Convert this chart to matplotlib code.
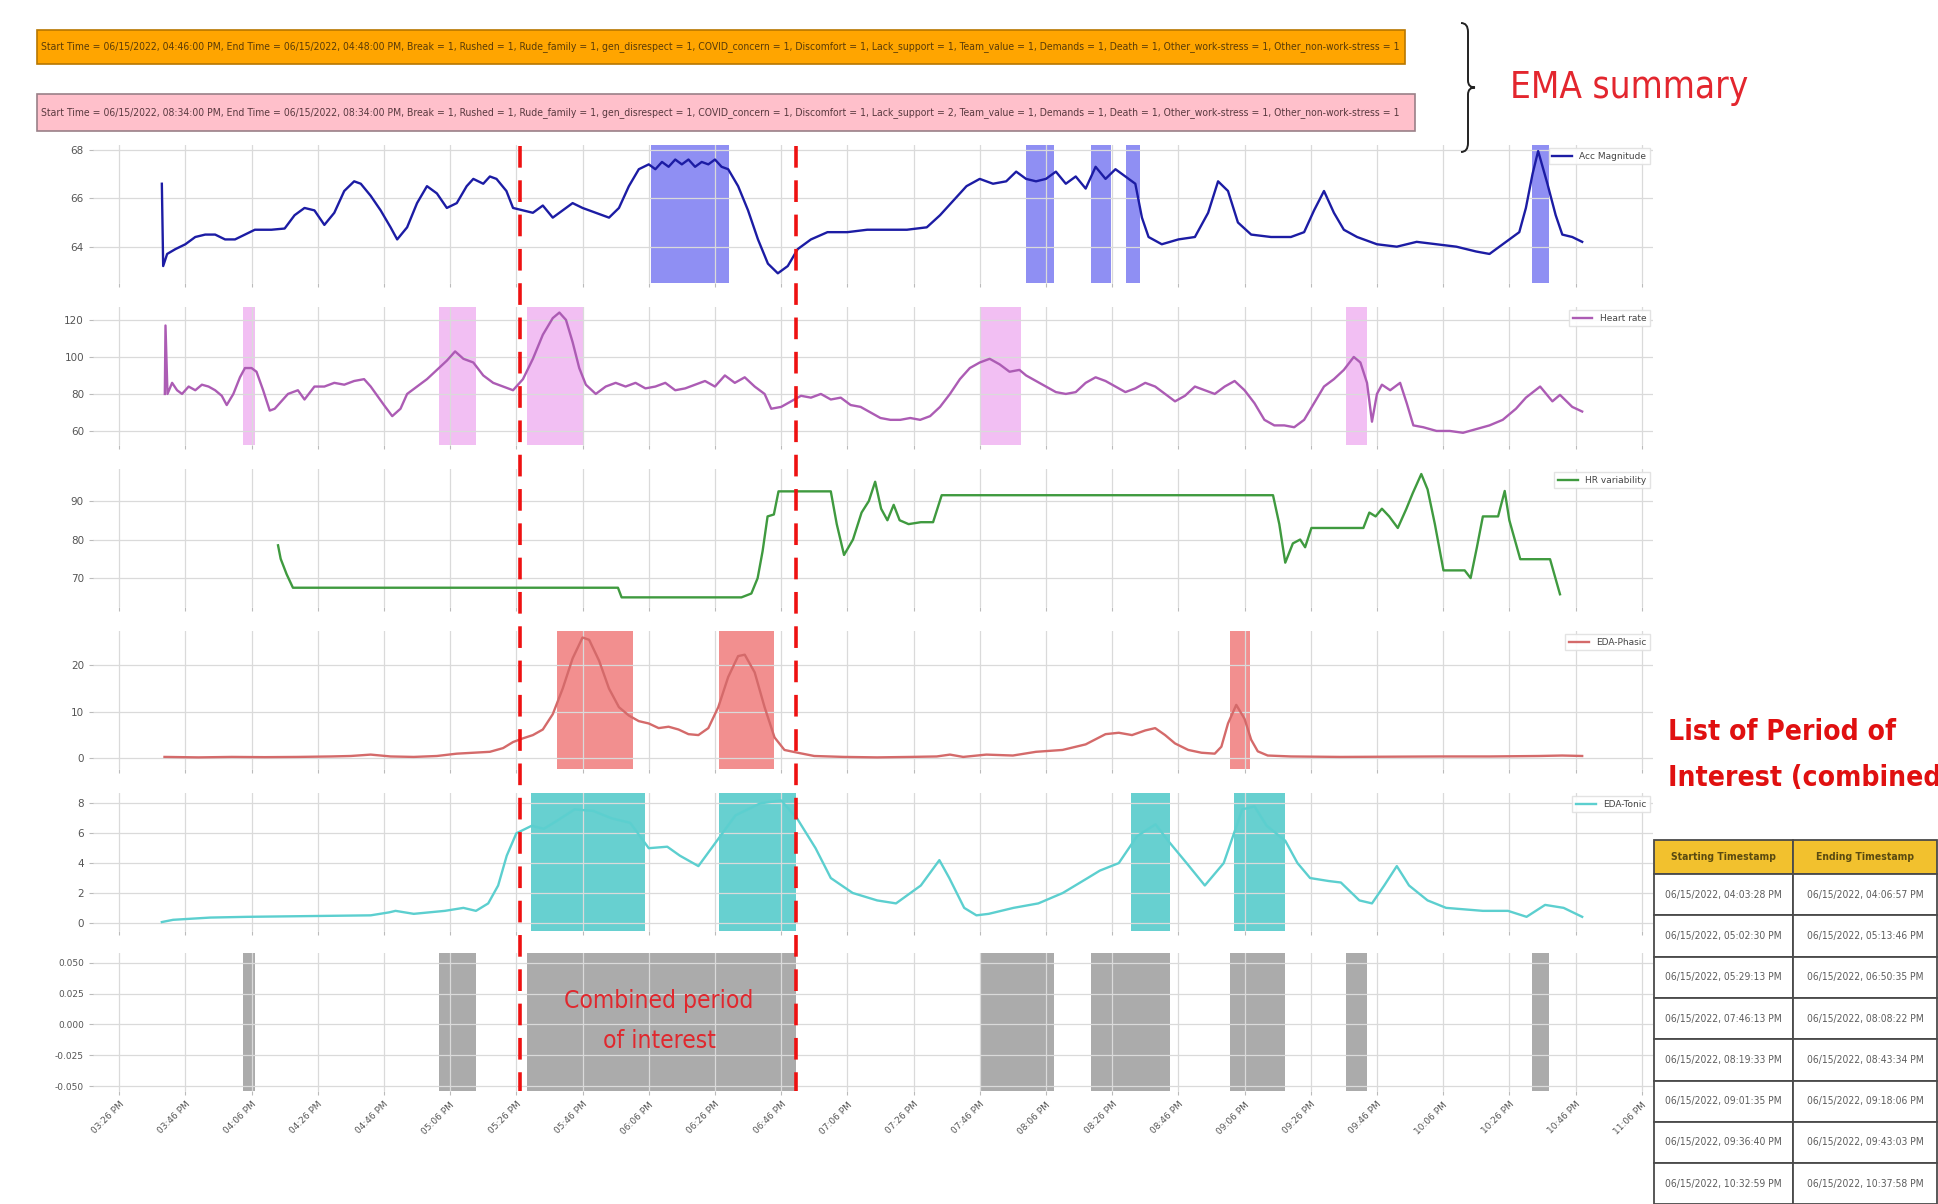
import matplotlib
matplotlib.use("Agg")
import matplotlib.pyplot as plt
import matplotlib.dates as mdates
import matplotlib.transforms as mtransforms
from matplotlib import font_manager
from matplotlib.lines import Line2D
from matplotlib.patches import Rectangle, PathPatch
from matplotlib.path import Path
import pandas as pd

# ---------------- data ----------------
# signal samples: (minutes after 03:00 PM on 06/15/2022, value)
acc_points = [
    (38.9, 66.6), (39.3, 63.2), (40.5, 63.7), (43, 63.9), (46, 64.1), (49, 64.4), (52, 64.5),
    (55, 64.5), (58, 64.3), (61, 64.3), (64, 64.5), (67, 64.7), (72, 64.7), (76, 64.75),
    (79, 65.3), (82, 65.6), (85, 65.5), (88, 64.9), (91, 65.4), (94, 66.3), (97, 66.7),
    (99, 66.6), (102, 66.1), (105, 65.5), (108, 64.8), (110, 64.3), (113, 64.8), (116, 65.8),
    (119, 66.5), (122, 66.2), (125, 65.6), (128, 65.8), (131, 66.5), (133, 66.8), (136, 66.6),
    (138, 66.9), (140, 66.8), (143, 66.3), (145, 65.6), (148, 65.5), (151, 65.4), (154, 65.7),
    (157, 65.2), (160, 65.5), (163, 65.8), (166, 65.6), (170, 65.4), (174, 65.2), (177, 65.6),
    (180, 66.5), (183, 67.2), (186, 67.4), (188, 67.2), (190, 67.5), (192, 67.3), (194, 67.6),
    (196, 67.4), (198, 67.6), (200, 67.3), (202, 67.5), (204, 67.4), (206, 67.6), (208, 67.3),
    (210, 67.2), (213, 66.5), (216, 65.5), (219, 64.3), (222, 63.3), (225, 62.9), (228, 63.2),
    (231, 63.9), (235, 64.3), (240, 64.6), (246, 64.6), (252, 64.7), (258, 64.7), (264, 64.7),
    (270, 64.8), (274, 65.3), (278, 65.9), (282, 66.5), (286, 66.8), (290, 66.6), (294, 66.7),
    (297, 67.1), (300, 66.8), (303, 66.7), (306, 66.8), (309, 67.1), (312, 66.6), (315, 66.9),
    (318, 66.4), (321, 67.3), (324, 66.8), (327, 67.2), (330, 66.9), (333, 66.6), (335, 65.2),
    (337, 64.4), (341, 64.1), (346, 64.3), (351, 64.4), (355, 65.4), (358, 66.7), (361, 66.3),
    (364, 65.0), (368, 64.5), (374, 64.4), (380, 64.4), (384, 64.6), (387, 65.5), (390, 66.3),
    (393, 65.4), (396, 64.7), (400, 64.4), (406, 64.1), (412, 64.0), (418, 64.2), (424, 64.1),
    (430, 64.0), (436, 63.8), (440, 63.7), (445, 64.2), (449, 64.6), (451, 65.6), (453, 67.0),
    (454.7, 67.95), (457.5, 66.6), (460, 65.3), (462, 64.5), (465, 64.4), (468, 64.2),
]

hr_points = [
    (39.8, 80), (40.0, 117), (40.6, 80), (42, 86), (43.5, 82), (45, 80), (47, 84), (49, 82),
    (51, 85), (53, 84), (55, 82), (57, 79), (58.5, 74), (60.5, 80), (62.5, 89), (64, 94),
    (66, 94), (67.5, 92), (69.5, 82), (71.5, 71), (73, 72), (75, 76), (77, 80), (80, 82),
    (82, 77), (85, 84), (88, 84), (91, 86), (94, 85), (97, 87), (100, 88), (102, 84), (104, 79),
    (106, 74), (108.5, 68), (111, 72), (113, 80), (116, 84), (119, 88), (122, 93), (125, 98),
    (127.5, 103), (130, 99), (133, 97), (136, 90), (139, 86), (142, 84), (145, 82), (148, 88),
    (151, 99), (154, 112), (157, 121), (159, 124), (161, 120), (163, 108), (165, 94), (167, 85),
    (170, 80), (173, 84), (176, 86), (179, 84), (182, 86), (185, 83), (188, 84), (191, 86),
    (194, 82), (197, 83), (200, 85), (203, 87), (206, 84), (209, 90), (212, 86), (215, 89),
    (218, 84), (221, 80), (223, 72), (226, 73), (229, 76), (232, 79), (235, 78), (238, 80),
    (241, 77), (244, 78), (247, 74), (250, 73), (253, 70), (256, 67), (259, 66), (262, 66),
    (265, 67), (268, 66), (271, 68), (274, 73), (277, 80), (280, 88), (283, 94), (286, 97),
    (289, 99), (292, 96), (295, 92), (298, 93), (300, 90), (303, 87), (306, 84), (309, 81),
    (312, 80), (315, 81), (318, 86), (321, 89), (324, 87), (327, 84), (330, 81), (333, 83),
    (336, 86), (339, 84), (342, 80), (345, 76), (348, 79), (351, 84), (354, 82), (357, 80),
    (360, 84), (363, 87), (366, 82), (369, 75), (372, 66), (375, 63), (378, 63), (381, 62),
    (384, 66), (387, 75), (390, 84), (393, 88), (396, 93), (399, 100), (401, 97), (403, 86),
    (404.5, 65), (406, 80), (407.5, 85), (410, 82), (413, 86), (415, 75), (417, 63), (420, 62),
    (424, 60), (428, 60), (432, 59), (436, 61), (440, 63), (444, 66), (448, 72), (451, 78),
    (455.3, 84), (459, 76), (461.3, 79.5), (465, 73), (468, 70.5),
]

hrv_points = [
    (74, 78.5), (74.8, 75), (76.6, 71), (78.5, 67.5), (176.7, 67.5), (177.8, 65), (214, 65),
    (217, 66), (218.9, 70), (220.4, 77), (221.9, 86), (223.8, 86.5), (225.2, 92.5), (241, 92.5),
    (242.8, 84), (245, 76), (247.7, 80), (250.3, 87), (252.5, 90), (254.4, 95), (256.2, 88),
    (258.1, 85), (260, 89), (261.8, 85), (264.5, 84), (268.2, 84.5), (271.9, 84.5), (274.5, 91.5),
    (374.6, 91.5), (376.5, 84), (378.3, 74), (380.6, 79), (382.8, 80), (384.3, 78), (386.2, 83),
    (401.9, 83), (403.7, 87), (405.6, 86), (407.5, 88), (409.7, 86), (412.3, 83), (414.9, 88),
    (416.8, 92), (419.4, 97), (421.3, 93), (423.5, 84), (426.1, 72), (432.5, 72), (434.3, 70),
    (436.2, 78), (438, 86), (440.3, 86), (442.6, 86), (444.6, 92.6), (446, 85), (449.3, 74.9),
    (458.3, 74.9), (461.3, 65.8),
]

phasic_points = [
    (39.7, 0.3), (50, 0.2), (60, 0.3), (70, 0.25), (80, 0.3), (90, 0.4), (96, 0.5), (102, 0.8),
    (108, 0.4), (115, 0.3), (122, 0.5), (128, 1.0), (133, 1.2), (138, 1.4), (142, 2.2), (145, 3.5),
    (148, 4.3), (151, 5.0), (154, 6.2), (157, 9.5), (160, 15), (163, 21.5), (166, 26), (168, 25.5),
    (171, 21), (174, 15), (177, 11), (180, 9.2), (183, 8.0), (186, 7.5), (189, 6.5), (192, 6.8),
    (195, 6.2), (198, 5.2), (201, 5.0), (204, 6.5), (207, 11), (210, 17.5), (213, 22), (215, 22.3),
    (218, 18.5), (221, 11), (224, 4.5), (227, 1.8), (231, 1.2), (236, 0.5), (245, 0.3), (255, 0.2),
    (265, 0.3), (273, 0.4), (277, 0.8), (281, 0.3), (288, 0.8), (296, 0.6), (303, 1.4), (311, 1.8),
    (318, 3.0), (324, 5.2), (328, 5.5), (332, 5.0), (336, 6.0), (339, 6.5), (342, 5.0), (345, 3.2),
    (349, 1.8), (353, 1.2), (357, 1.0), (359, 2.5), (361, 7.5), (363.5, 11.5), (366, 8.5),
    (368, 4.0), (370, 1.5), (373, 0.6), (380, 0.4), (395, 0.3), (410, 0.35), (425, 0.4),
    (440, 0.4), (455, 0.5), (462, 0.6), (468, 0.5),
]

tonic_points = [
    (38.9, 0.05), (42.3, 0.2), (53.5, 0.35), (64.7, 0.4), (83.4, 0.45), (102, 0.5), (107.6, 0.7),
    (109.5, 0.8), (115, 0.6), (124.4, 0.8), (130, 1.0), (133.8, 0.8), (137.5, 1.3), (140.5, 2.5),
    (143.1, 4.5), (146, 6.0), (150.6, 6.5), (154.3, 6.3), (158, 6.8), (163.6, 7.6), (169.2, 7.5),
    (174.8, 7.0), (180.4, 6.7), (186, 5.0), (191.6, 5.1), (195.4, 4.5), (201, 3.8), (206.6, 5.5),
    (212.2, 7.2), (219.6, 8.0), (226, 8.2), (230.8, 7.0), (236.4, 5.0), (241, 3.0), (247.6, 2.0),
    (255, 1.5), (260.7, 1.3), (268.2, 2.5), (273.8, 4.2), (276.8, 3.0), (281.3, 1.0), (285, 0.5),
    (288.7, 0.6), (296.2, 1.0), (303.7, 1.3), (311.1, 2.0), (318.6, 3.0), (322.3, 3.5), (328, 4.0),
    (333.5, 5.8), (339.1, 6.6), (342.9, 5.5), (348.5, 4.0), (354, 2.5), (359.7, 4.0), (365.3, 7.6),
    (369, 7.8), (372.7, 6.5), (378.3, 5.5), (382, 4.0), (385.8, 3.0), (391.4, 2.8), (395.1, 2.7),
    (400.7, 1.5), (404.5, 1.3), (408.2, 2.5), (412, 3.8), (415.7, 2.5), (421.3, 1.5), (426.9, 1.0),
    (438, 0.8), (445.6, 0.8), (451.2, 0.4), (456.8, 1.2), (462.4, 1.0), (468, 0.4),
]

# periods of interest flagged per signal
acc_spans = [("06:06:40 PM", "06:30:20 PM"), ("08:00:00 PM", "08:08:22 PM"),
             ("08:19:33 PM", "08:25:45 PM"), ("08:30:15 PM", "08:34:20 PM"),
             ("10:32:59 PM", "10:37:58 PM")]
hr_spans = [("04:03:28 PM", "04:06:57 PM"), ("05:02:30 PM", "05:13:46 PM"),
            ("05:29:13 PM", "05:46:00 PM"), ("07:46:13 PM", "07:58:30 PM"),
            ("09:36:40 PM", "09:43:03 PM")]
hrv_spans = []
phasic_spans = [("05:38:20 PM", "06:01:10 PM"), ("06:27:20 PM", "06:43:50 PM"),
                ("09:01:35 PM", "09:07:30 PM")]
tonic_spans = [("05:30:30 PM", "06:05:00 PM"), ("06:27:20 PM", "06:50:35 PM"),
               ("08:31:40 PM", "08:43:34 PM"), ("09:02:40 PM", "09:18:06 PM")]

# combined periods (table on the right)
combined_start = ["06/15/2022, 04:03:28 PM", "06/15/2022, 05:02:30 PM", "06/15/2022, 05:29:13 PM",
                  "06/15/2022, 07:46:13 PM", "06/15/2022, 08:19:33 PM", "06/15/2022, 09:01:35 PM",
                  "06/15/2022, 09:36:40 PM", "06/15/2022, 10:32:59 PM"]
combined_end = ["06/15/2022, 04:06:57 PM", "06/15/2022, 05:13:46 PM", "06/15/2022, 06:50:35 PM",
                "06/15/2022, 08:08:22 PM", "06/15/2022, 08:43:34 PM", "06/15/2022, 09:18:06 PM",
                "06/15/2022, 09:43:03 PM", "06/15/2022, 10:37:58 PM"]
table_header = ["Starting Timestamp", "Ending Timestamp"]

highlight_window = ("05:27:00 PM", "06:50:35 PM")

ema_summaries = [
    "Start Time = 06/15/2022, 04:46:00 PM, End Time = 06/15/2022, 04:48:00 PM, Break = 1, Rushed = 1, "
    "Rude_family = 1, gen_disrespect = 1, COVID_concern = 1, Discomfort = 1, Lack_support = 1, "
    "Team_value = 1, Demands = 1, Death = 1, Other_work-stress = 1, Other_non-work-stress = 1",
    "Start Time = 06/15/2022, 08:34:00 PM, End Time = 06/15/2022, 08:34:00 PM, Break = 1, Rushed = 1, "
    "Rude_family = 1, gen_disrespect = 1, COVID_concern = 1, Discomfort = 1, Lack_support = 2, "
    "Team_value = 1, Demands = 1, Death = 1, Other_work-stress = 1, Other_non-work-stress = 1",
]

# ---------------- helpers ----------------
W, H = 1938, 1204
DAY = pd.Timestamp("2022-06-15 15:00")


def to_time(minutes):
    return (DAY + pd.to_timedelta(list(minutes), unit="min")).to_pydatetime()


def clock(s):
    return pd.to_datetime("06/15/2022 " + s, format="%m/%d/%Y %I:%M:%S %p").to_pydatetime()


def stamp(s):
    return pd.to_datetime(s, format="%m/%d/%Y, %I:%M:%S %p").to_pydatetime()


def fbox(left, top, right, bottom):
    return [left / W, 1 - bottom / H, (right - left) / W, (bottom - top) / H]


def fxy(x, y):
    return x / W, 1 - y / H


def narrow_font(bold):
    # a condensed face looks closest to the squeezed screenshot text
    for f in font_manager.fontManager.ttflist:
        st = str(f.stretch).lower()
        is_narrow = ("narrow" in f.name.lower() or "condensed" in f.name.lower()
                     or st in ("condensed", "semi-condensed", "extra-condensed")
                     or (st.isdigit() and int(st) < 500))
        wt = f.weight if isinstance(f.weight, int) else (
            700 if str(f.weight).lower() in ("bold", "heavy", "black") else 400)
        if is_narrow and f.style == "normal" and (wt >= 600) == bold and "CJK" not in f.name:
            return font_manager.FontProperties(fname=f.fname)
    return font_manager.FontProperties(family="Liberation Sans",
                                       weight="bold" if bold else "normal")


FONT_N = narrow_font(False)
FONT_B = narrow_font(True)

fig = plt.figure(figsize=(W / 100, H / 100), dpi=100)
renderer = fig.canvas.get_renderer()


def put(x, y, s, fp, size, width=None, **kw):
    prop = fp.copy()
    prop.set_size(size)
    txt = fig.text(*fxy(x, y), s, fontproperties=prop, **kw)
    if width:
        w = txt.get_window_extent(renderer=renderer).width
        txt.set_fontsize(size * width / w)
    return txt


# ---------------- signal panels ----------------
signals = [
    (acc_points, acc_spans, "Acc Magnitude", "#1c1ca4", "#7c7cf2", 0.85, (62.5, 68.2), [64, 66, 68]),
    (hr_points, hr_spans, "Heart rate", "#ac5cb4", "#eeaaf0", 0.75, (52.4, 127), [60, 80, 100, 120]),
    (hrv_points, hrv_spans, "HR variability", "#3f9a3f", "#ffffff", 0.0, (62.5, 98.3), [70, 80, 90]),
    (phasic_points, phasic_spans, "EDA-Phasic", "#d46a6a", "#f07c7c", 0.85, (-2.3, 27.4), [0, 10, 20]),
    (tonic_points, tonic_spans, "EDA-Tonic", "#5ccfcf", "#4cc8c8", 0.85, (-0.55, 8.7), [0, 2, 4, 6, 8]),
]

panel_tops = [145, 307, 469, 631, 793, 953]
axes = []
for top in panel_tops:
    ax = fig.add_axes(fbox(93, top, 1653, top + 138), sharex=axes[0] if axes else None)
    ax.grid(True, color="#dadada", lw=0.9)
    for sp in ax.spines.values():
        sp.set_visible(False)
    ax.tick_params(labelsize=7.5, labelcolor="#555555", color="#bbbbbb", length=3)
    axes.append(ax)

for ax, (pts, spans, label, lc, sc, sa, ylim, yticks) in zip(axes, signals):
    t, v = zip(*pts)
    for a, b in spans:
        ax.axvspan(clock(a), clock(b), color=sc, alpha=sa, lw=0)
    ax.plot(to_time(t), v, color=lc, lw=1.7, label=label)
    ax.set_ylim(*ylim)
    ax.set_yticks(yticks)
    ax.tick_params(labelbottom=False)
    leg = ax.legend(loc="upper right", fontsize=6.5, handlelength=2.2, borderaxespad=0.35,
                    framealpha=0.9, edgecolor="#e0e0e0", fancybox=False)
    for txt in leg.get_texts():
        txt.set_color("#444444")

# combined periods panel
ax6 = axes[-1]
for a, b in zip(combined_start, combined_end):
    ax6.axvspan(stamp(a), stamp(b), color="#ababab", lw=0)
ax6.set_ylim(-0.054, 0.058)
ax6.set_yticks([-0.05, -0.025, 0, 0.025, 0.05])
ax6.yaxis.set_major_formatter(matplotlib.ticker.FormatStrFormatter("%.3f"))

xticks = pd.date_range(DAY + pd.Timedelta(minutes=26), periods=24, freq="20min").to_pydatetime()
ax6.set_xticks(xticks)
ax6.set_xlim(to_time([18.1])[0], to_time([489.4])[0])
ax6.xaxis.set_major_formatter(mdates.DateFormatter("%I:%M %p"))
ax6.tick_params(labelbottom=True, labelsize=6.5)
for lab in ax6.get_xticklabels():
    lab.set_rotation(45)
    lab.set_ha("right")
    lab.set_rotation_mode("anchor")

c1 = put(659, 1001, "Combined period", FONT_N, 24, width=190, ha="center", va="center",
         color="#e0282e")
put(659, 1041, "of interest", FONT_N, c1.get_fontsize(), ha="center", va="center",
    color="#e0282e")

# red dashed window across all panels
trans = mtransforms.blended_transform_factory(ax6.transData, fig.transFigure)
for s in highlight_window:
    x = mdates.date2num(clock(s))
    fig.add_artist(Line2D([x, x], [1 - 146 / H, 1 - 1091 / H], transform=trans,
                          color="#ee1111", lw=2.6, linestyle=(0, (6, 3.5))))

# ---------------- EMA banners ----------------
banners = [((37, 30, 1405, 64), "#ffa500", "#b87700", "#5a3c08"),
           ((37, 94, 1415, 131), "#ffc0cb", "#9a8088", "#5a3a40")]
for ((l, t, r, b), fc, ec, tc), text in zip(banners, ema_summaries):
    x0, y0 = fxy(l, b)
    fig.add_artist(Rectangle((x0, y0), (r - l) / W, (b - t) / H, transform=fig.transFigure,
                             facecolor=fc, edgecolor=ec, lw=1.2))
    put(l + 4, (t + b) / 2, text, FONT_N, 8, width=(r - l) - 16, ha="left", va="center",
        color=tc)

# curly brace
bx, btop, bbot = 1468, 23, 152
bmid = (btop + bbot) / 2
verts = [fxy(bx - 7, btop), fxy(bx, btop), fxy(bx, btop + 9), fxy(bx, bmid - 7),
         fxy(bx, bmid), fxy(bx + 7, bmid), fxy(bx, bmid), fxy(bx, bmid + 7),
         fxy(bx, bbot - 9), fxy(bx, bbot), fxy(bx - 7, bbot)]
codes = [Path.MOVETO, Path.CURVE3, Path.CURVE3, Path.LINETO, Path.CURVE3, Path.CURVE3,
         Path.CURVE3, Path.CURVE3, Path.LINETO, Path.CURVE3, Path.CURVE3]
fig.add_artist(PathPatch(Path(verts, codes), transform=fig.transFigure, fill=False,
                         edgecolor="#222222", lw=1.4))

put(1510, 88, "EMA summary", FONT_N, 30, width=238, ha="left", va="center", color="#e3262e")

# ---------------- list of periods ----------------
t1 = put(1668, 740, "List of Period of", FONT_B, 24, width=228, ha="left", va="baseline",
         color="#e01010")
put(1668, 786, "Interest (combined)", FONT_B, t1.get_fontsize(), ha="left", va="baseline",
    color="#e01010")

col_x = [1654, 1793, 1937]
row_y = [840, 874] + [874 + 41.3 * (i + 1) for i in range(len(combined_start))]
rows = [table_header] + list(zip(combined_start, combined_end))
head_size = None
cell_size = None
for i, row in enumerate(rows):
    for j, cell in enumerate(row):
        l, r, t, b = col_x[j], col_x[j + 1], row_y[i], row_y[i + 1]
        x0, y0 = fxy(l, b)
        fig.add_artist(Rectangle((x0, y0), (r - l) / W, (b - t) / H, transform=fig.transFigure,
                                 facecolor="#f2c12e" if i == 0 else "white",
                                 edgecolor="#4a4a4a", lw=1.3))
        if i == 0:
            txt = put((l + r) / 2, (t + b) / 2, cell, FONT_B, head_size or 8,
                      width=None if head_size else 105, ha="center", va="center",
                      color="#5a4a10")
            head_size = txt.get_fontsize()
        else:
            txt = put((l + r) / 2, (t + b) / 2, cell, FONT_N, cell_size or 7,
                      width=None if cell_size else 116, ha="center", va="center",
                      color="#5c5c5c")
            cell_size = txt.get_fontsize()

fig.savefig("out.png", dpi=100, facecolor="white")
